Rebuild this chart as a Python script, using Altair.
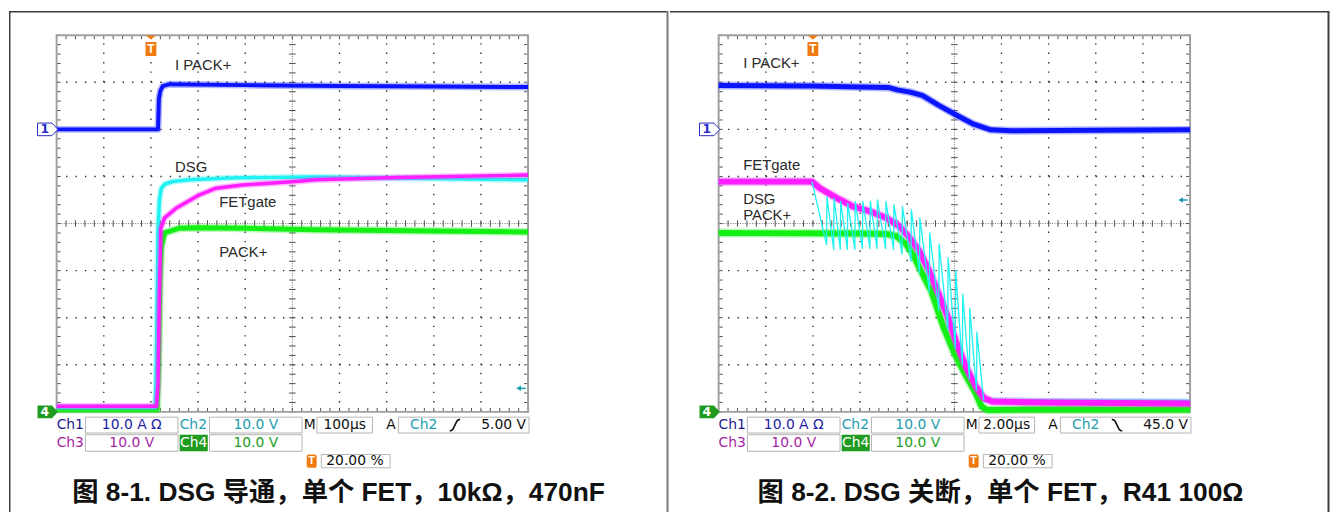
import altair as alt
import pandas as pd

# ======================= DATA (screen divisions: time 0..10, value 0..8) =======================
# Figure 8-1: DSG turn-on
f1_ch1_t = [0, 2.15, 2.16, 2.17, 2.20, 2.25, 2.4, 4, 6, 8, 10]
f1_ch1_v = [6.0, 6.0, 6.3, 6.65, 6.82, 6.92, 6.96, 6.94, 6.92, 6.91, 6.90]
f1_ch2_t = [0, 2.09, 2.11, 2.13, 2.15, 2.18, 2.22, 2.30, 2.46, 2.8, 3.73, 5.49, 7.5, 10]
f1_ch2_v = [0.10, 0.10, 0.6, 2.0, 3.8, 4.5, 4.75, 4.84, 4.89, 4.93, 4.97, 4.99, 4.96, 4.93]
f1_ch3_t = [0, 2.12, 2.15, 2.18, 2.21, 2.29, 2.54, 3.03, 3.38, 3.94, 4.44, 5.14, 5.49, 7.24, 10]
f1_ch3_v = [0.12, 0.12, 0.6, 2.5, 3.9, 4.12, 4.33, 4.61, 4.75, 4.82, 4.85, 4.90, 4.93, 4.98, 5.03]
f1_ch4_t = [0, 2.13, 2.16, 2.19, 2.22, 2.29, 2.6, 3.0, 4.0, 5.5, 8, 10]
f1_ch4_v = [0.05, 0.05, 1.0, 2.8, 3.5, 3.8, 3.9, 3.91, 3.90, 3.87, 3.84, 3.82]

# Figure 8-2: DSG turn-off
f2_ch1_t = [0, 2, 3.0, 3.6, 3.79, 4.06, 4.32, 4.67, 5.05, 5.41, 5.77, 6.2, 8, 10]
f2_ch1_v = [6.93, 6.92, 6.90, 6.89, 6.84, 6.79, 6.72, 6.51, 6.30, 6.11, 5.99, 5.97, 5.98, 5.99]
f2_ch3_t = [0, 1.98, 2.15, 2.51, 2.86, 3.21, 3.56, 3.84, 4.05, 4.26, 4.47, 4.65, 4.85, 5.05, 5.25, 5.45, 5.62, 5.8, 7, 10]
f2_ch3_v = [4.89, 4.89, 4.75, 4.54, 4.36, 4.26, 4.12, 3.94, 3.70, 3.41, 2.99, 2.55, 2.05, 1.45, 0.95, 0.55, 0.30, 0.22, 0.20, 0.18]
f2_ch4_t = [0, 3.0, 3.56, 3.77, 3.98, 4.12, 4.26, 4.40, 4.51, 4.77, 5.0, 5.22, 5.45, 5.58, 5.7, 6.5, 10]
f2_ch4_v = [3.80, 3.79, 3.78, 3.73, 3.56, 3.35, 3.06, 2.78, 2.57, 1.80, 1.25, 0.82, 0.40, 0.11, 0.04, 0.05, 0.05]
# Ch2 (DSG) ringing during turn-off: spike times, spike peaks, level just before each spike
f2_ch2_start_t = [0, 1.98]
f2_ch2_start_v = [4.89, 4.89]
f2_ch2_spike_t = [2.29, 2.44, 2.58, 2.73, 2.89, 3.05, 3.21, 3.36, 3.54, 3.71, 3.89, 4.08, 4.26, 4.47, 4.67, 4.86, 5.02, 5.17, 5.32, 5.47]
f2_ch2_spike_top = [4.57, 4.54, 4.47, 4.43, 4.47, 4.47, 4.47, 4.50, 4.47, 4.40, 4.36, 4.29, 4.12, 3.80, 3.56, 3.27, 3.0, 2.5, 2.2, 1.7]
f2_ch2_spike_low = [3.55, 3.45, 3.45, 3.45, 3.45, 3.47, 3.47, 3.47, 3.47, 3.45, 3.35, 3.2, 2.95, 2.55, 2.15, 1.75, 1.35, 1.0, 0.7, 0.45]
f2_ch2_tail_t = [5.62, 6.5, 10]
f2_ch2_tail_v = [0.25, 0.23, 0.22]

# waveform labels
f1_labels = ["I PACK+", "DSG", "FETgate", "PACK+"]
f1_label_x = [2.51, 2.51, 3.45, 3.45]
f1_label_y = [7.36, 5.19, 4.45, 3.40]
f2_labels = ["I PACK+", "FETgate", "DSG", "PACK+"]
f2_label_x = [0.52, 0.52, 0.52, 0.52]
f2_label_y = [7.41, 5.24, 4.53, 4.19]

# scope settings read-out
f1_timebase = "100µs"
f2_timebase = "2.00µs"
f1_trig_rising, f1_trig_level_txt, f1_trig_level = True, "5.00 V", 0.5
f2_trig_rising, f2_trig_level_txt, f2_trig_level = False, "45.0 V", 4.5
f1_caption = "图 8-1. DSG 导通，单个 FET，10kΩ，470nF"
f2_caption = "图 8-2. DSG 关断，单个 FET，R41 100Ω"

# ======================= LAYOUT =======================
PXX, PXY = 47.5, 47.44      # pixels per division
PW, PH = 664, 505           # panel size
TOP = 24.5                  # grid top inside panel

BLUE, CYAN, MAG, GRN = "#0a14ff", "#1ef2f2", "#ff1eff", "#14f014"
TEAL = "#1c9eae"
LBL_FONT = "Liberation Sans"
INFO_FONT = "DejaVu Sans"
RISE = "M-0.75,0.8C-0.3,0.85 -0.25,0.6 -0.15,0.3L0.15,-0.3C0.25,-0.6 0.3,-0.85 0.75,-0.8"
FALL = "M-0.75,-0.8C-0.3,-0.85 -0.25,-0.6 -0.15,-0.3L0.15,0.3C0.25,0.6 0.3,0.85 0.75,0.8"


def scales(left_px):
    xmin = -left_px / PXX
    ymax = 8 + TOP / PXY
    xs = alt.Scale(domain=[xmin, xmin + PW / PXX], nice=False, zero=False)
    ys = alt.Scale(domain=[ymax - PH / PXY, ymax], nice=False, zero=False)
    return xs, ys


def panel(left_px, traces, labels, timebase, trig, caption, right_edge_color):
    xs, ys = scales(left_px)

    def XY(x="x", y="y"):
        return dict(x=alt.X(x, type="quantitative", scale=xs, axis=None),
                    y=alt.Y(y, type="quantitative", scale=ys, axis=None))

    layers = []
    # ---- grid ----
    vlines = pd.DataFrame({"x": [1, 2, 3, 4, 6, 7, 8, 9], "y0": 0, "y1": 8})
    hlines = pd.DataFrame({"y": [1, 2, 3, 5, 6, 7], "x0": 0, "x1": 10})
    layers.append(alt.Chart(vlines).mark_rule(color="#303030", strokeWidth=1.4, strokeDash=[1.4, 8.09])
                  .encode(**XY("x", "y0"), y2=alt.Y2("y1")))
    layers.append(alt.Chart(hlines).mark_rule(color="#303030", strokeWidth=1.4, strokeDash=[1.4, 8.1])
                  .encode(**XY("x0", "y"), x2=alt.X2("x1")))
    layers.append(alt.Chart(pd.DataFrame({"x": [5], "y0": [0], "y1": [8]}))
                  .mark_rule(color="#777777", strokeWidth=1, strokeDash=[1, 1.4])
                  .encode(**XY("x", "y0"), y2=alt.Y2("y1")))
    layers.append(alt.Chart(pd.DataFrame({"y": [4], "x0": [0], "x1": [10]}))
                  .mark_rule(color="#777777", strokeWidth=1, strokeDash=[1, 1.4])
                  .encode(**XY("x0", "y"), x2=alt.X2("x1")))
    xt = [i * 0.2 for i in range(51)]
    yt = [i * 0.2 for i in range(41)]
    ctick_h = pd.DataFrame({"x": xt, "y0": 4 - 0.07, "y1": 4 + 0.07})
    ctick_v = pd.DataFrame({"y": yt, "x0": 5 - 0.07, "x1": 5 + 0.07})
    btick_h = pd.DataFrame({"x": xt * 2, "y0": [0] * 51 + [8] * 51, "y1": [0.085] * 51 + [8 - 0.085] * 51})
    btick_v = pd.DataFrame({"y": yt * 2, "x0": [0] * 41 + [10] * 41, "x1": [0.085] * 41 + [10 - 0.085] * 41})
    for d in (ctick_h, btick_h):
        layers.append(alt.Chart(d).mark_rule(color="#505050", strokeWidth=1)
                      .encode(**XY("x", "y0"), y2=alt.Y2("y1")))
    for d in (ctick_v, btick_v):
        layers.append(alt.Chart(d).mark_rule(color="#505050", strokeWidth=1)
                      .encode(**XY("x0", "y"), x2=alt.X2("x1")))
    layers.append(alt.Chart(pd.DataFrame({"x0": [0], "x1": [10], "y0": [0], "y1": [8]}))
                  .mark_rect(fillOpacity=0, stroke="#a0a0a0", strokeWidth=2)
                  .encode(**XY("x0", "y0"), x2=alt.X2("x1"), y2=alt.Y2("y1")))

    # ---- traces (soft halo + core, to mimic the noisy scope band) ----
    for t, v, color, width, rng in traces:
        df = pd.DataFrame({"x": t, "y": v, "i": range(len(t))})
        ch = alt.Chart(df)
        if rng is not None:
            ch = ch.transform_filter((alt.datum.x >= rng[0]) & (alt.datum.x <= rng[1]))
        if width > 2:
            layers.append(ch.mark_line(color=color, strokeWidth=width + 3, strokeJoin="round",
                                       strokeOpacity=0.3, clip=True)
                          .encode(**XY(), order="i:Q"))
        layers.append(ch.mark_line(color=color, strokeWidth=width, strokeJoin="round", clip=True)
                      .encode(**XY(), order="i:Q"))

    # ---- waveform labels ----
    ldf = pd.DataFrame({"x": labels[1], "y": labels[2], "t": labels[0]})
    layers.append(alt.Chart(ldf).mark_text(align="left", baseline="middle", font=LBL_FONT,
                                           fontSize=15, color="#2a2a2a")
                  .encode(**XY(), text="t:N"))

    # ---- channel ground markers / trigger markers ----
    pent = "M-1,-0.62L0.42,-0.62L1,0L0.42,0.62L-1,0.62Z"
    layers.append(alt.Chart(pd.DataFrame({"x": [-0.19], "y": [6.0]}))
                  .mark_point(shape=pent, size=420, filled=True, fill="white", stroke="#2a2ac8",
                              strokeWidth=1, opacity=1)
                  .encode(**XY()))
    layers.append(alt.Chart(pd.DataFrame({"x": [-0.19], "y": [0.0]}))
                  .mark_point(shape=pent, size=420, filled=True, fill="#1f9b1f", strokeWidth=0, opacity=1)
                  .encode(**XY()))
    mk = pd.DataFrame({"x": [-0.25, -0.25], "y": [6.0, 0.0], "t": ["1", "4"], "c": ["#2a2ac8", "white"]})
    layers.append(alt.Chart(mk).mark_text(font=INFO_FONT, fontSize=12.5, baseline="middle", fontWeight="bold")
                  .encode(**XY(), text="t:N", color=alt.Color("c:N", scale=None)))
    tshape = "M-0.5,-1L0.5,-1L0,-0.6Z M-0.53,-0.37L0.53,-0.37L0.53,1L-0.53,1Z"
    layers.append(alt.Chart(pd.DataFrame({"x": [2.0], "y": [7.778]}))
                  .mark_point(shape=tshape, size=424, filled=True, fill="#f07a10", strokeWidth=0, opacity=1)
                  .encode(**XY()))
    layers.append(alt.Chart(pd.DataFrame({"x": [2.0], "y": [7.70], "t": ["T"]}))
                  .mark_text(font=LBL_FONT, fontSize=12, fontWeight="bold", color="white", baseline="middle")
                  .encode(**XY(), text="t:N"))
    # trigger level arrow (Ch2)
    layers.append(alt.Chart(pd.DataFrame({"x": [9.80], "y": [trig[2]]}))
                  .mark_point(shape="triangle-left", size=30, filled=True, color=TEAL, opacity=1)
                  .encode(**XY()))
    layers.append(alt.Chart(pd.DataFrame({"x0": [9.8], "x1": [9.95], "y": [trig[2]]}))
                  .mark_rule(color=TEAL, strokeWidth=1.5)
                  .encode(**XY("x0", "y"), x2=alt.X2("x1")))

    # ---- settings read-out ----
    r1, r2, r3 = -0.280, -0.660, -1.048
    b1, b2, b3 = (-0.112, -0.449), (-0.485, -0.837), (-0.906, -1.187)
    boxes = pd.DataFrame({
        "x0": [0.611, 3.242, 5.522, 7.25, 0.611, 3.242, 5.615],
        "x1": [2.575, 5.206, 6.701, 10.02, 2.575, 5.206, 7.074],
        "y0": [b1[0], b1[0], b1[0], b1[0], b2[0], b2[0], b3[0]],
        "y1": [b1[1], b1[1], b1[1], b1[1], b2[1], b2[1], b3[1]],
    })
    layers.append(alt.Chart(boxes).mark_rect(fill="white", stroke="#b4b4b4", strokeWidth=1)
                  .encode(**XY("x0", "y0"), x2=alt.X2("x1"), y2=alt.Y2("y1")))
    layers.append(alt.Chart(pd.DataFrame({"x0": [2.61], "x1": [3.206], "y0": [b2[0]], "y1": [b2[1]]}))
                  .mark_rect(fill="#1f9b1f")
                  .encode(**XY("x0", "y0"), x2=alt.X2("x1"), y2=alt.Y2("y1")))
    layers.append(alt.Chart(pd.DataFrame({"x0": [5.305], "x1": [5.516], "y0": [b3[0]], "y1": [b3[1]]}))
                  .mark_rect(fill="#f07a10", cornerRadius=2)
                  .encode(**XY("x0", "y0"), x2=alt.X2("x1"), y2=alt.Y2("y1")))
    info = pd.DataFrame({
        "t": ["Ch1", "10.0 A Ω", "Ch2", "10.0 V", "M", timebase, "A", "Ch2", trig[1],
              "Ch3", "10.0 V", "Ch4", "10.0 V", "20.00 %"],
        "x": [0.0, 1.593, 2.61, 4.224, 5.242, 6.11, 6.99, 7.495, 9.958,
              0.0, 1.593, 2.908, 4.224, 5.72],
        "y": [r1] * 9 + [r2] * 4 + [r3],
        "a": ["left", "center", "left", "center", "left", "center", "left", "left", "right",
              "left", "center", "center", "center", "left"],
        "c": ["#1c1c8c", "#2424a8", TEAL, TEAL, "#111111", "#111111", "#111111", TEAL, "#111111",
              "#a626a4", "#a626a4", "white", "#22a022", "#111111"],
    })
    for a in ("left", "center", "right"):
        layers.append(alt.Chart(info[info.a == a]).mark_text(align=a, baseline="middle", font=INFO_FONT,
                                                            fontSize=14)
                      .encode(**XY(), text="t:N", color=alt.Color("c:N", scale=None)))
    # trigger slope icon
    layers.append(alt.Chart(pd.DataFrame({"x": [8.45], "y": [r1]}))
                  .mark_point(shape=RISE if trig[0] else FALL, size=200, filled=False,
                              stroke="#111111", strokeWidth=1.6, opacity=1)
                  .encode(**XY()))
    layers.append(alt.Chart(pd.DataFrame({"x": [5.41], "y": [r3], "t": ["T"]}))
                  .mark_text(font=LBL_FONT, fontSize=11, fontWeight="bold", color="white", baseline="middle")
                  .encode(**XY(), text="t:N"))

    # ---- caption ----
    layers.append(alt.Chart(pd.DataFrame({"x": [5.979], "y": [-1.73], "t": [caption]}))
                  .mark_text(font="Liberation Sans, Noto Sans CJK SC", fontSize=26.5, fontWeight="bold",
                             color="#111111", baseline="middle")
                  .encode(**XY(), text="t:N"))

    # ---- frame ----
    layers.append(alt.Chart(pd.DataFrame({"a": [0]})).mark_rule(color="#3c3c3c", strokeWidth=1.5)
                  .encode(x=alt.value(0), x2=alt.value(PW), y=alt.value(0.75)))
    if left_px < 49:
        layers.append(alt.Chart(pd.DataFrame({"a": [0]})).mark_rule(color="#3c3c3c", strokeWidth=1.5)
                      .encode(x=alt.value(0.75), y=alt.value(0), y2=alt.value(PH)))
    layers.append(alt.Chart(pd.DataFrame({"a": [0]})).mark_rule(color=right_edge_color, strokeWidth=2)
                  .encode(x=alt.value(PW - 0.5), y=alt.value(0), y2=alt.value(PH)))

    return alt.layer(*layers).properties(width=PW, height=PH)


# cyan turn-off trace assembled from the read-off spike list
c2_t = list(f2_ch2_start_t)
c2_v = list(f2_ch2_start_v)
for t, top, low in zip(f2_ch2_spike_t, f2_ch2_spike_top, f2_ch2_spike_low):
    c2_t += [t, t + 0.008]
    c2_v += [low, top]
c2_t += f2_ch2_tail_t
c2_v += f2_ch2_tail_v

p1 = panel(48,
           [(f1_ch4_t, f1_ch4_v, GRN, 5, None),
            (f1_ch2_t, f1_ch2_v, CYAN, 3.5, None),
            (f1_ch3_t, f1_ch3_v, MAG, 3.5, None),
            (f1_ch1_t, f1_ch1_v, BLUE, 4, None)],
           (f1_labels, f1_label_x, f1_label_y),
           f1_timebase, (f1_trig_rising, f1_trig_level_txt, f1_trig_level), f1_caption, "#7a7a7a")

p2 = panel(49,
           [(f2_ch4_t, f2_ch4_v, GRN, 6, None),
            (c2_t, c2_v, CYAN, 3.5, (0, 1.98)),
            (c2_t, c2_v, CYAN, 3.5, (5.62, 10)),
            (f2_ch3_t, f2_ch3_v, MAG, 6, None),
            (c2_t, c2_v, CYAN, 1.3, (1.98, 5.62)),
            (f2_ch1_t, f2_ch1_v, BLUE, 5, None)],
           (f2_labels, f2_label_x, f2_label_y),
           f2_timebase, (f2_trig_rising, f2_trig_level_txt, f2_trig_level), f2_caption, "#3c3c3c")

chart = (alt.hconcat(p1, p2, spacing=0)
         .properties(padding=0, background="white")
         .configure_view(strokeWidth=0))

chart.save("out.html", embed_options={"renderer": "svg", "actions": False})
